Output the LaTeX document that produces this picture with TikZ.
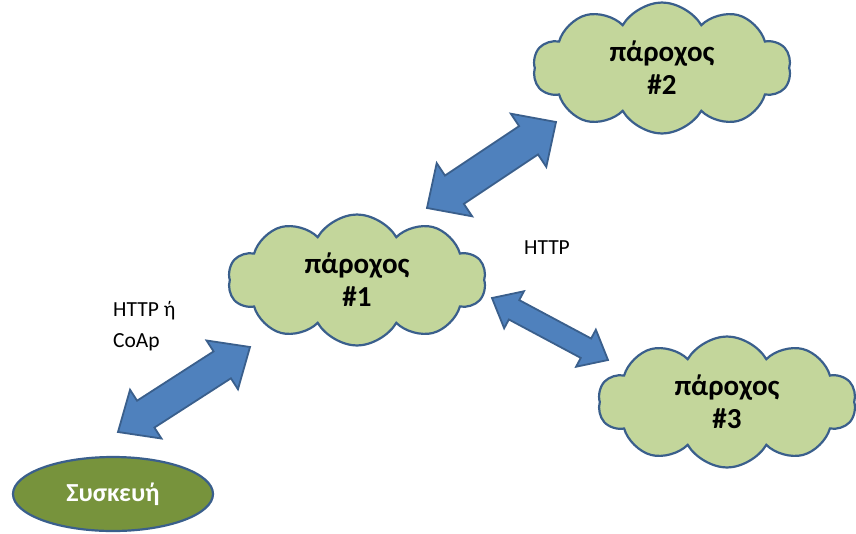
\documentclass[tikz,border=0pt]{standalone}
\usepackage{fontspec}
\setmainfont{Carlito}
\usetikzlibrary{shapes.symbols,shapes.geometric,calc}
\definecolor{cloudfill}{HTML}{C3D69B}
\definecolor{edgeblue}{HTML}{3A5F8C}
\definecolor{arrowfill}{HTML}{4F81BD}
\definecolor{devfill}{HTML}{77933C}

% Block double arrow between two tips:
% #1,#2 tips, #3 shaft half width, #4 head half width, #5 head length
\newcommand\blockarrow[5]{%
  \draw[blockarrow] (#1)
    -- ($(#1)!#5!(#2)!#4!90:(#2)$)
    -- ($(#1)!#5!(#2)!#3!90:(#2)$)
    -- ($(#2)!#5!(#1)!#3!-90:(#1)$)
    -- ($(#2)!#5!(#1)!#4!-90:(#1)$)
    -- (#2)
    -- ($(#2)!#5!(#1)!#4!90:(#1)$)
    -- ($(#2)!#5!(#1)!#3!90:(#1)$)
    -- ($(#1)!#5!(#2)!#3!-90:(#2)$)
    -- ($(#1)!#5!(#2)!#4!-90:(#2)$)
    -- cycle;}

\begin{document}
\begin{tikzpicture}[x=1pt,y=-1pt,
  provider/.style={cloud, cloud puffs=10, cloud puff arc=120,
    draw=edgeblue, fill=cloudfill, line width=2.2pt,
    minimum width=258pt, minimum height=131pt,
    inner xsep=-20pt, inner ysep=-30pt,
    align=center, font=\bfseries\fontsize{29}{33}\selectfont},
  device/.style={ellipse, draw=edgeblue, fill=devfill, line width=2.2pt,
    minimum width=200pt, minimum height=74pt,
    text=white, font=\bfseries\fontsize{26}{30}\selectfont},
  blockarrow/.style={draw=edgeblue, fill=arrowfill, line width=1.8pt,
    line join=miter},
  proto/.style={font=\fontsize{21.5}{31}\selectfont, align=left, inner sep=0pt}]

\fill[white] (0,0) rectangle (856,533);
\useasboundingbox (0,0) rectangle (856,533);

% providers and device
\node[provider] (p1) at (357,280) {πάροχος\\\#1};
\node[provider] (p2) at (662,68) {πάροχος\\\#2};
\node[provider] (p3) at (727,402) {πάροχος\\\#3};
\node[device] (dev) at (113,494) {Συσκευή};

% arrow tips
\coordinate (a1) at (427,208);
\coordinate (a2) at (556,122);
\coordinate (b1) at (492,298);
\coordinate (b2) at (608,360);
\coordinate (c1) at (118,432);
\coordinate (c2) at (250,347);

\blockarrow{a1}{a2}{17pt}{32pt}{33pt}
\blockarrow{b1}{b2}{11pt}{21pt}{25pt}
\blockarrow{c1}{c2}{16pt}{29pt}{33pt}

% protocol labels
\node[proto, anchor=west] (l1) at (113,326) {HTTP ή\\CoAp};
\node[proto] (l2) at (547,248) {HTTP};
\end{tikzpicture}
\end{document}
